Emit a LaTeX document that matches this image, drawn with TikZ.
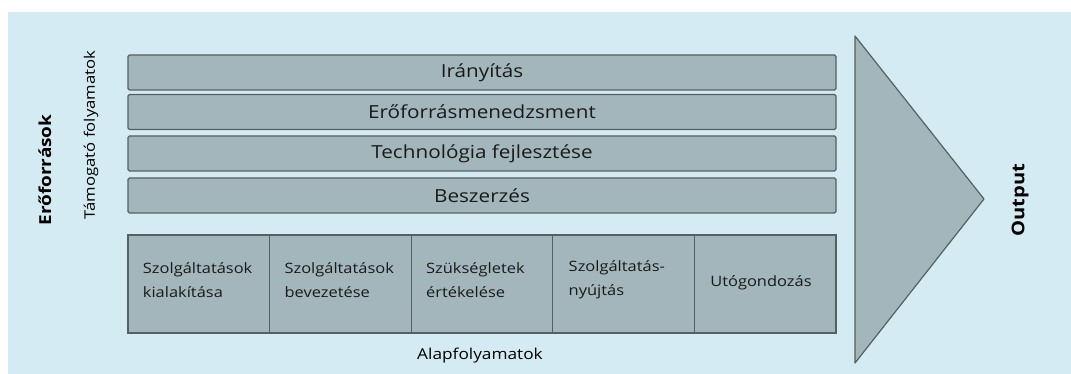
\documentclass[tikz,border=0pt]{standalone}
\usepackage{fontspec}
\setmainfont[FakeStretch=1.15]{Open Sans}
\definecolor{panelblue}{HTML}{D4EBF3}
\definecolor{barfill}{HTML}{A3B6BB}
\definecolor{barline}{HTML}{56615F}
\definecolor{labeltext}{HTML}{1A1A1A}
\tikzset{
  bar/.style={draw=barline, fill=barfill, line width=1.2pt, rounded corners=1.5pt, text=labeltext,
    minimum width=708pt, minimum height=35pt, inner sep=0pt, font=\fontsize{18}{21}\selectfont},
  cell/.style={draw=barline, fill=barfill, line width=1.2pt,
    minimum width=141.6pt, minimum height=98pt, inner sep=0pt},
  celltext/.style={anchor=west, align=left, text=labeltext, font=\fontsize{14.3}{24}\selectfont}
}
\begin{document}
\begin{tikzpicture}[x=1pt,y=-1pt]
\useasboundingbox (0,0) rectangle (1071,374);
\fill[panelblue] (8,12) rectangle (1071,374);
% side labels
\node[rotate=90, font=\bfseries\fontsize{16.5}{18}\selectfont] (eroforrasok) at (45,170) {Erőforrások};
\node[rotate=90, font=\fontsize{14.5}{16}\selectfont] (tamogato) at (91,135) {Támogató folyamatok};
% support processes
\node[bar] (iranyitas) at (482,72.5) {Irányítás};
\node[bar] (menedzsment) at (482,112) {Erőforrásmenedzsment};
\node[bar] (technologia) at (482,153.5) {Technológia fejlesztése};
\node[bar] (beszerzes) at (482,195.5) {Beszerzés};
% primary processes
\node[cell] (c1) at (198.8,284) {};
\node[cell] (c2) at (340.4,284) {};
\node[cell] (c3) at (482,284) {};
\node[cell] (c4) at (623.6,284) {};
\node[cell] (c5) at (765.2,284) {};
\node[celltext] at ([xshift=12pt,yshift=4pt]c1.west) {Szolgáltatások\\kialakítása};
\node[celltext] at ([xshift=12pt,yshift=4pt]c2.west) {Szolgáltatások\\bevezetése};
\node[celltext] at ([xshift=12pt,yshift=4pt]c3.west) {Szükségletek\\értékelése};
\node[celltext] at ([xshift=13pt,yshift=4pt]c4.west) {Szolgáltatás-\\nyújtás};
\node[celltext] at ([xshift=13pt,yshift=1pt]c5.west) {Utógondozás};
\node[font=\fontsize{15}{17}\selectfont] (alap) at (480,356) {Alapfolyamatok};
% output
\draw[draw=barline, fill=barfill, line width=1.2pt, line join=round] (855,36) -- (984,199) -- (855,363) -- cycle;
\node[rotate=90, font=\bfseries\fontsize{17.5}{19}\selectfont] (output) at (1020,200) {Output};
\end{tikzpicture}
\end{document}
